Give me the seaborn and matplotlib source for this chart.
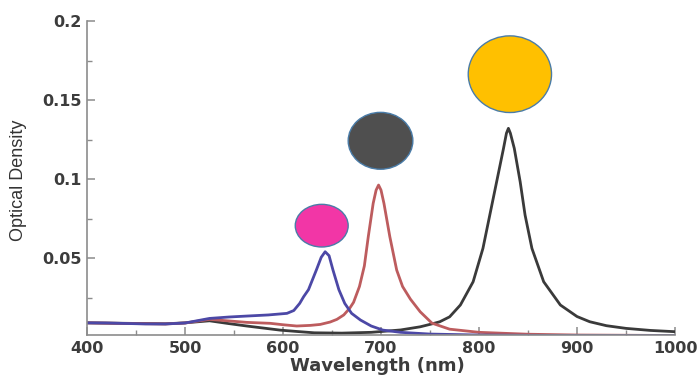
import numpy as np
import pandas as pd
import matplotlib
matplotlib.use("Agg")
import matplotlib.pyplot as plt
from matplotlib.patches import Ellipse
from matplotlib.ticker import MultipleLocator
import seaborn as sns

# ---------------- data ----------------
blue_wl = [400, 420, 440, 460, 480, 500, 525, 545, 563, 585, 604, 611, 617, 621, 626,
           634, 639, 643, 647, 651, 657, 663, 670, 679, 690, 702, 720, 750, 800, 850,
           900, 1000]
blue_od = [0.0090, 0.0089, 0.0086, 0.0083, 0.0083, 0.0089, 0.0118, 0.0127, 0.0133,
           0.0140, 0.0150, 0.0168, 0.0213, 0.0255, 0.0300, 0.0424, 0.0505, 0.0540,
           0.0515, 0.0424, 0.0300, 0.0213, 0.0150, 0.0108, 0.0070, 0.0044, 0.0030,
           0.0019, 0.0013, 0.0011, 0.0010, 0.0010]

red_wl = [400, 440, 480, 500, 525, 545, 563, 587, 600, 614, 628, 638, 648, 655, 662,
          668, 672, 678, 683, 687, 692, 695, 697.5, 700, 703, 709, 716, 722, 730, 740,
          752, 770, 800, 850, 900, 1000]
red_od = [0.0090, 0.0086, 0.0083, 0.0089, 0.0112, 0.0102, 0.0093, 0.0087, 0.0078,
          0.0070, 0.0074, 0.0080, 0.0095, 0.0112, 0.0140, 0.0182, 0.0220, 0.0320,
          0.0450, 0.0635, 0.0846, 0.0930, 0.0962, 0.0930, 0.0846, 0.0635, 0.0424,
          0.0320, 0.0240, 0.0160, 0.0088, 0.0050, 0.0030, 0.0018, 0.0013, 0.0010]

black_wl = [400, 440, 480, 500, 525, 545, 563, 580, 597, 615, 632, 660, 690, 720, 740,
            753, 760, 770, 781, 794, 804, 811, 818, 825, 828, 830, 832, 836, 842, 847,
            854, 866, 883, 900, 913, 930, 950, 975, 1000]
black_od = [0.0090, 0.0087, 0.0084, 0.0090, 0.0103, 0.0085, 0.0070, 0.0057, 0.0044,
            0.0035, 0.0027, 0.0025, 0.0030, 0.0045, 0.0065, 0.0085, 0.0097, 0.0128,
            0.0203, 0.0350, 0.0561, 0.0772, 0.0983, 0.1194, 0.1290, 0.1321, 0.1290,
            0.1194, 0.0983, 0.0772, 0.0561, 0.0350, 0.0203, 0.0130, 0.0097, 0.0072,
            0.0055, 0.0042, 0.0034]

series_names = ["black", "red", "blue"]
x_ticks = [400, 500, 600, 700, 800, 900, 1000]
x_tick_labels = ["400", "500", "600", "700", "800", "900", "1000"]
y_ticks = [0.05, 0.1, 0.15, 0.2]
y_tick_labels = ["0.05", "0.1", "0.15", "0.2"]

# ---------------- styles ----------------
line_colors = {"black": "#3a3a3a", "red": "#bd5c5e", "blue": "#4c48a6"}
# particle markers drawn above each peak: fill, width (nm), height (OD), gap above peak
circle_fill = {"blue": "#f236a6", "red": "#4f4f4f", "black": "#ffc000"}
circle_w = {"blue": 54, "red": 66, "black": 85}
circle_h = {"blue": 0.027, "red": 0.036, "black": 0.0485}
circle_gap = {"blue": 0.003, "red": 0.010, "black": 0.010}
circle_dx = {"blue": -3.5, "red": 2.0, "black": 1.5}

frames = []
for name, wl, od in [("black", black_wl, black_od), ("red", red_wl, red_od),
                     ("blue", blue_wl, blue_od)]:
    frames.append(pd.DataFrame({"wavelength": wl, "od": od, "series": name}))
df = pd.concat(frames, ignore_index=True)

sns.set_theme(style="white")
plt.rcParams["font.family"] = ["DejaVu Sans"]

fig = plt.figure(figsize=(7.0, 3.76), dpi=100)
ax = fig.add_axes([0.1243, 0.1090, 0.84, 0.8351])

sns.lineplot(data=df, x="wavelength", y="od", hue="series", hue_order=series_names,
             palette=line_colors, linewidth=2.0, legend=False, sort=False,
             estimator=None, ax=ax)

ax.set_xlim(400, 1000)
ax.set_ylim(0.0013, 0.2)

# circles above peaks
for name, wl, od in [("blue", blue_wl, blue_od), ("red", red_wl, red_od),
                     ("black", black_wl, black_od)]:
    i = int(np.argmax(od))
    cx = wl[i] + circle_dx[name]
    cy = od[i] + circle_gap[name] + circle_h[name] / 2
    ax.add_patch(Ellipse((cx, cy), circle_w[name], circle_h[name],
                         facecolor=circle_fill[name], edgecolor="#4a7ca8",
                         linewidth=1.0, zorder=5, clip_on=False))

sns.despine(ax=ax)
spine_col = "#8c8c8c"
for s in ["left", "bottom"]:
    ax.spines[s].set_color(spine_col)
    ax.spines[s].set_linewidth(1.2)

tick_col = "#3c3c3c"
ax.set_xticks(x_ticks)
ax.set_xticklabels(x_tick_labels)
ax.set_yticks(y_ticks)
ax.set_yticklabels(y_tick_labels)
ax.xaxis.set_minor_locator(MultipleLocator(50))
ax.yaxis.set_minor_locator(MultipleLocator(0.025))
ax.tick_params(axis="both", which="major", direction="in", length=6, width=1.1,
               color=spine_col, labelsize=11.5, labelcolor=tick_col, pad=4,
               bottom=True, left=True)
ax.tick_params(axis="both", which="minor", direction="in", length=3.5, width=1.0,
               color=spine_col, bottom=True, left=True)
for lab in ax.get_xticklabels() + ax.get_yticklabels():
    lab.set_fontweight("bold")

ax.set_xlabel("Wavelength (nm)", fontsize=13, fontweight="bold", color=tick_col,
              va="center")
ax.xaxis.set_label_coords(0.494, -0.098)
ax.set_ylabel("Optical Density", fontsize=13, color="#333333", va="center",
              family=["Liberation Sans", "DejaVu Sans"])
ax.yaxis.set_label_coords(-0.116, 0.494)

fig.savefig("out.png", dpi=100, facecolor="white")
